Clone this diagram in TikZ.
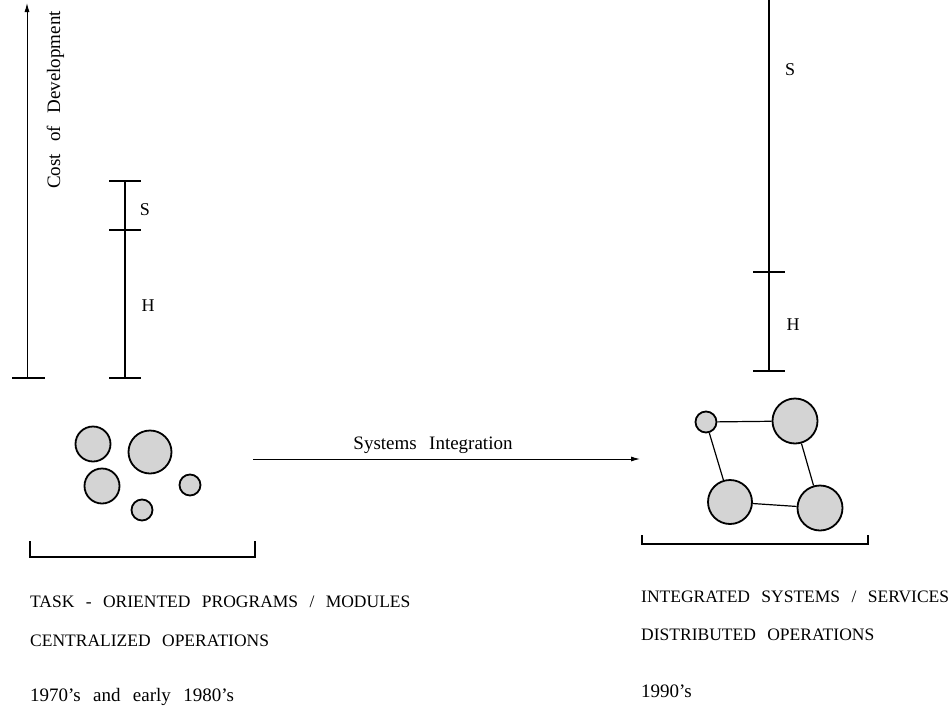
\documentclass[tikz,border=0pt]{standalone}
\usepackage{fontspec}
\setmainfont{Liberation Serif}[WordSpace=3]
\newfontfamily\labelfont{Liberation Serif}[WordSpace=2.6,Ligatures=TeX]
\usetikzlibrary{arrows.meta}
\definecolor{dotfill}{gray}{0.83}
\begin{document}
\begin{tikzpicture}[x=1pt,y=-1pt,
  bar/.style={line width=2pt},
  thin axis/.style={line width=1pt},
  ball/.style={circle,draw,line width=1.8pt,fill=dotfill,inner sep=0pt},
  link/.style={line width=1.2pt},
  lbl/.style={font=\fontsize{17.5}{20}\selectfont,inner sep=0pt},
  big/.style={font=\labelfont\fontsize{19}{22}\selectfont,inner sep=0pt},
  mark label/.style={font=\fontsize{18}{20}\selectfont,inner sep=0pt},
  txt/.style={lbl,anchor=base west},
  lowtxt/.style={big,anchor=base west}]
\useasboundingbox (0,0) rectangle (951,707);

% cost axis
\coordinate (ax0) at (27,378);
\coordinate (ax1) at (27,3);
\coordinate (axl) at (12,378);
\coordinate (axr) at (45,378);
\draw[thin axis,-{Latex[length=9pt,width=5pt]}] (ax0) -- (ax1);
\draw[bar] (axl) -- (axr);
\node[big,anchor=base,rotate=90] (cost) at (60,100) {Cost of Development};

% left cost bar
\coordinate (ls0) at (125,378);
\coordinate (ls1) at (125,230);
\coordinate (ls2) at (125,181);
\draw[bar] (ls0) -- (ls2);
\foreach \c in {ls0,ls1,ls2}
  \draw[bar] ([xshift=-16pt]\c) -- ([xshift=16pt]\c);
\node[mark label] (lS) at (145,210) {S};
\node[mark label] (lH) at (148,306) {H};

% right cost bar
\coordinate (rs0) at (769,371);
\coordinate (rs1) at (769,272);
\coordinate (rs2) at (769,0);
\draw[bar] (rs0) -- (rs2);
\foreach \c in {rs0,rs1}
  \draw[bar] ([xshift=-16pt]\c) -- ([xshift=16pt]\c);
\node[mark label] (rS) at (790,70) {S};
\node[mark label] (rH) at (793,325) {H};

% separate programs
\node[ball,minimum size=35pt] (c1) at (93,444) {};
\node[ball,minimum size=43pt] (c2) at (150,452) {};
\node[ball,minimum size=35pt] (c3) at (102,486) {};
\node[ball,minimum size=21pt] (c4) at (190,485) {};
\node[ball,minimum size=21pt] (c5) at (142,510) {};

% integrated systems
\node[ball,minimum size=21pt] (d1) at (706,422) {};
\node[ball,minimum size=45pt] (d2) at (795,421) {};
\node[ball,minimum size=44pt] (d3) at (730,502) {};
\node[ball,minimum size=45pt] (d4) at (820,508) {};
\draw[link] (d1) -- (d2);
\draw[link] (d1) -- (d3);
\draw[link] (d2) -- (d4);
\draw[link] (d3) -- (d4);

% brackets
\coordinate (lb1) at (30,541);
\coordinate (lb2) at (30,557);
\coordinate (lb3) at (255,557);
\coordinate (lb4) at (255,541);
\draw[bar] (lb1) -- (lb2) -- (lb3) -- (lb4);
\coordinate (rb1) at (642,535);
\coordinate (rb2) at (642,544);
\coordinate (rb3) at (868,544);
\coordinate (rb4) at (868,535);
\draw[bar] (rb1) -- (rb2) -- (rb3) -- (rb4);

% transition arrow
\coordinate (si0) at (253,459);
\coordinate (si1) at (640,459);
\draw[thin axis,-{Latex[length=9pt,width=5pt]}] (si0) -- (si1);
\node[big,anchor=base] (si) at (433,449) {Systems Integration};

% captions
\node[txt] (t1) at (30,607) {TASK - ORIENTED PROGRAMS / MODULES};
\node[txt] (t2) at (30,646) {CENTRALIZED OPERATIONS};
\node[lowtxt] (t3) at (30,701) {1970’s and early 1980’s};
\node[txt] (u1) at (641,602) {INTEGRATED SYSTEMS / SERVICES};
\node[txt] (u2) at (641,640) {DISTRIBUTED OPERATIONS};
\node[lowtxt] (u3) at (641,697) {1990’s};
\end{tikzpicture}
\end{document}
